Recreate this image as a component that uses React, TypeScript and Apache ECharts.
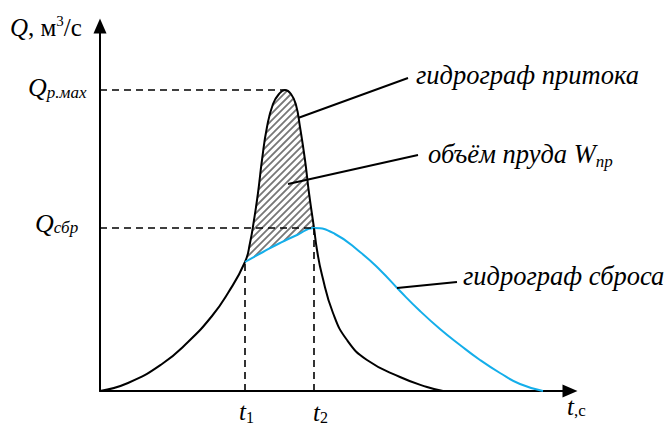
import React, { useEffect, useRef } from "react";
import * as echarts from "echarts";

// Inflow hydrograph (black): time t, discharge Q (units)
const inflowT = [0, 28, 62, 88, 112, 128, 145, 150, 154, 158, 162, 167, 173, 179, 185, 191, 196, 200, 205, 209, 214, 217, 222, 233, 247, 267, 300, 327, 343];
const inflowQ = [0, 8, 27, 49, 75, 98, 129, 148, 171, 198, 231, 264, 287, 297, 301, 297, 286, 264, 231, 198, 163, 141, 116, 78, 51, 31, 14, 4, 0];

// Outflow (discharge) hydrograph (blue)
const outflowT = [145, 163, 180, 197, 214, 235, 260, 280, 300, 320, 340, 360, 380, 400, 420, 443];
const outflowQ = [129, 139, 148, 156, 163, 157, 139, 121, 100, 80, 62, 46, 31, 18, 7, 0];

// Key points
const T1 = 145;
const T2 = 214;
const QMAX = 301;
const TMAX = 185;
const QSBR = 163;

// Leader lines [t0, Q0, t1, Q1]
const leaderInflow = [198, 273, 308, 313];
const leaderVolume = [188, 207, 318, 236];
const leaderOutflow = [297, 103, 357, 109];

const X_MAX = 470;
const Y_MAX = 365;

const FAMILY = "'Liberation Serif', 'Times New Roman', serif";

type Pt = number[];

function beziers(pts: Pt[], smooth = 0.5) {
  const segs: Pt[][] = [];
  let cpx0 = pts[0][0], cpy0 = pts[0][1];
  let prevX = pts[0][0], prevY = pts[0][1];
  for (let i = 1; i < pts.length; i++) {
    const x = pts[i][0], y = pts[i][1];
    let cpx1: number, cpy1: number, nextCpx0 = x, nextCpy0 = y;
    if (i === pts.length - 1) {
      cpx1 = x; cpy1 = y;
    } else {
      const nextX = pts[i + 1][0], nextY = pts[i + 1][1];
      let vx = nextX - prevX, vy = nextY - prevY;
      const lenPrev = Math.hypot(x - prevX, y - prevY);
      const lenNext = Math.hypot(nextX - x, nextY - y);
      const ratio = lenNext / (lenNext + lenPrev);
      nextCpx0 = x + vx * smooth * ratio;
      nextCpy0 = y + vy * smooth * ratio;
      nextCpx0 = Math.min(nextCpx0, Math.max(nextX, x));
      nextCpy0 = Math.min(nextCpy0, Math.max(nextY, y));
      nextCpx0 = Math.max(nextCpx0, Math.min(nextX, x));
      nextCpy0 = Math.max(nextCpy0, Math.min(nextY, y));
      vx = nextCpx0 - x; vy = nextCpy0 - y;
      cpx1 = x - vx * lenPrev / lenNext;
      cpy1 = y - vy * lenPrev / lenNext;
      cpx1 = Math.min(cpx1, Math.max(prevX, x));
      cpy1 = Math.min(cpy1, Math.max(prevY, y));
      cpx1 = Math.max(cpx1, Math.min(prevX, x));
      cpy1 = Math.max(cpy1, Math.min(prevY, y));
      vx = x - cpx1; vy = y - cpy1;
      nextCpx0 = x + vx * lenNext / lenPrev;
      nextCpy0 = y + vy * lenNext / lenPrev;
    }
    segs.push([[prevX, prevY], [cpx0, cpy0], [cpx1, cpy1], [x, y]]);
    cpx0 = nextCpx0; cpy0 = nextCpy0;
    prevX = x; prevY = y;
  }
  return segs;
}

function sampleRange(pts: Pt[], a: number, b: number, n = 12): Pt[] {
  const segs = beziers(pts);
  const out: Pt[] = [];
  for (let k = a; k < b; k++) {
    const [p0, c0, c1, p1] = segs[k];
    for (let s = 0; s < n; s++) {
      const t = s / n, u = 1 - t;
      out.push([
        u * u * u * p0[0] + 3 * u * u * t * c0[0] + 3 * u * t * t * c1[0] + t * t * t * p1[0],
        u * u * u * p0[1] + 3 * u * u * t * c0[1] + 3 * u * t * t * c1[1] + t * t * t * p1[1],
      ]);
    }
  }
  out.push(pts[b]);
  return out;
}

function hatchLines(poly: Pt[], step: number) {
  let minC = Infinity, maxC = -Infinity;
  poly.forEach((p) => { minC = Math.min(minC, p[0] + p[1]); maxC = Math.max(maxC, p[0] + p[1]); });
  const lines: any[] = [];
  const start = Math.ceil(minC / step) * step;
  for (let c = start; c <= maxC; c += step) {
    const xs: Pt[] = [];
    for (let i = 0; i < poly.length; i++) {
      const p = poly[i], q = poly[(i + 1) % poly.length];
      const fp = p[0] + p[1] - c, fq = q[0] + q[1] - c;
      if ((fp < 0) !== (fq < 0)) {
        const t = fp / (fp - fq);
        xs.push([p[0] + t * (q[0] - p[0]), p[1] + t * (q[1] - p[1])]);
      }
    }
    xs.sort((m, n) => m[0] - n[0]);
    for (let i = 0; i + 1 < xs.length; i += 2) {
      lines.push({
        type: "line",
        shape: { x1: xs[i][0], y1: xs[i][1], x2: xs[i + 1][0], y2: xs[i + 1][1] },
        style: { stroke: "#777777", lineWidth: 1.8 },
        silent: true,
      });
    }
  }
  return lines;
}

let measureCtx: CanvasRenderingContext2D | null = null;
function textWidth(text: string, font: string) {
  if (!measureCtx) measureCtx = document.createElement("canvas").getContext("2d");
  measureCtx!.font = font;
  return measureCtx!.measureText(text).width;
}

type Piece = { t: string; s: number; i?: boolean; dy?: number; dx?: number };
function chain(x: number, baseline: number, pieces: Piece[]) {
  const out: any[] = [];
  let cx = x;
  for (const p of pieces) {
    const font = `${p.i ? "italic " : ""}${p.s}px ${FAMILY}`;
    const by = baseline + (p.dy || 0);
    out.push({
      type: "text",
      x: cx + (p.dx || 0),
      y: by - 0.34 * p.s,
      silent: true,
      style: {
        legacy: false,
        text: p.t,
        font,
        fontSize: p.s,
        fontFamily: FAMILY,
        fontStyle: p.i ? "italic" : "normal",
        fill: "#000",
        align: "left",
        verticalAlign: "middle",
        textAlign: "left",
        textBaseline: "middle",
      },
    });
    cx += textWidth(p.t, font) + (p.dx || 0);
  }
  return out;
}

export default function App() {
  const ref = useRef<HTMLDivElement>(null);
  useEffect(() => {
    if (!ref.current) return;
    const chart = echarts.init(ref.current, null, { renderer: "svg" });
    const axisCommon = {
      type: "value" as const,
      axisTick: { show: false },
      axisLabel: { show: false },
      splitLine: { show: false },
      axisLine: {
        show: true,
        onZero: false,
        symbol: ["none", "triangle"],
        symbolSize: [13, 15],
        lineStyle: { color: "#000", width: 2 },
      },
    };
    const dashed = { color: "#000", width: 1.6, type: [7, 5] as any };
    const solid = { color: "#000", width: 2, type: "solid" as const };
    const seg = (a: number[], style: any) => [
      { coord: [a[0], a[1]], lineStyle: style },
      { coord: [a[2], a[3]] },
    ];
    const graphics = [
      ...chain(10, 36, [
        { t: "Q", s: 25, i: true },
        { t: ", м", s: 25 },
        { t: "3", s: 15, dy: -10 },
        { t: "/с", s: 25 },
      ]),
      ...chain(28, 96, [
        { t: "Q", s: 26, i: true },
        { t: "р.мах", s: 17, i: true, dy: 2 },
      ]),
      ...chain(35, 232, [
        { t: "Q", s: 26, i: true },
        { t: "сбр", s: 17, i: true, dy: 1 },
      ]),
      ...chain(416, 84, [{ t: "гидрограф притока", s: 26.5, i: true }]),
      ...chain(428, 163, [
        { t: "объём пруда W", s: 26.5, i: true },
        { t: "пр", s: 17, i: true, dy: 4 },
      ]),
      ...chain(463, 285, [{ t: "гидрограф сброса", s: 26.5, i: true }]),
      ...chain(239, 420, [
        { t: "t", s: 25, i: true },
        { t: "1", s: 16, dy: 3 },
      ]),
      ...chain(313, 421, [
        { t: "t", s: 25, i: true },
        { t: "2", s: 16, dy: 2 },
      ]),
      ...chain(567, 415, [
        { t: "t", s: 25, i: true },
        { t: ",с", s: 17, dy: 1 },
      ]),
    ];
    chart.setOption({
      animation: false,
      backgroundColor: "#fff",
      textStyle: { fontFamily: FAMILY },
      grid: { left: 100, right: 101, top: 26, bottom: 34 },
      xAxis: { ...axisCommon, min: 0, max: X_MAX },
      yAxis: { ...axisCommon, min: 0, max: Y_MAX },
      graphic: graphics,
      series: [
        {
          type: "custom",
          coordinateSystem: "cartesian2d",
          z: 1,
          silent: true,
          data: [[0, 0]],
          renderItem: (params: any, api: any) => {
            const black = inflowT.map((t, i) => api.coord([t, inflowQ[i]]));
            const blue = outflowT.map((t, i) => api.coord([t, outflowQ[i]]));
            const i1 = inflowT.indexOf(T1);
            const i2 = inflowT.indexOf(T2);
            const j2 = outflowT.indexOf(T2);
            const top = sampleRange(black, i1, i2);
            const bottom = sampleRange(blue, 0, j2).reverse();
            const poly = top.concat(bottom);
            return { type: "group", children: hatchLines(poly, 7) };
          },
        },
        {
          type: "line",
          z: 3,
          data: inflowT.map((t, i) => [t, inflowQ[i]]),
          smooth: true,
          symbol: "none",
          silent: true,
          lineStyle: { color: "#000", width: 2 },
          markLine: {
            silent: true,
            symbol: ["none", "none"],
            label: { show: false },
            emphasis: { disabled: true },
            data: [
              seg([0, QMAX, TMAX, QMAX], dashed),
              seg([0, QSBR, T2, QSBR], dashed),
              seg([T1, 0, T1, inflowQ[inflowT.indexOf(T1)]], dashed),
              seg([T2, 0, T2, QSBR], dashed),
            ],
          },
        },
        {
          type: "line",
          z: 4,
          data: outflowT.map((t, i) => [t, outflowQ[i]]),
          smooth: true,
          symbol: "none",
          silent: true,
          lineStyle: { color: "#14AEEA", width: 2 },
          markLine: {
            silent: true,
            symbol: ["none", "none"],
            label: { show: false },
            emphasis: { disabled: true },
            data: [
              seg(leaderInflow, solid),
              seg(leaderVolume, solid),
              seg(leaderOutflow, solid),
            ],
          },
        },
      ],
    });
    return () => chart.dispose();
  }, []);
  return (
    <div
      ref={ref}
      style={{ position: "fixed", left: 0, top: 0, width: 671, height: 425, background: "#fff" }}
    />
  );
}
